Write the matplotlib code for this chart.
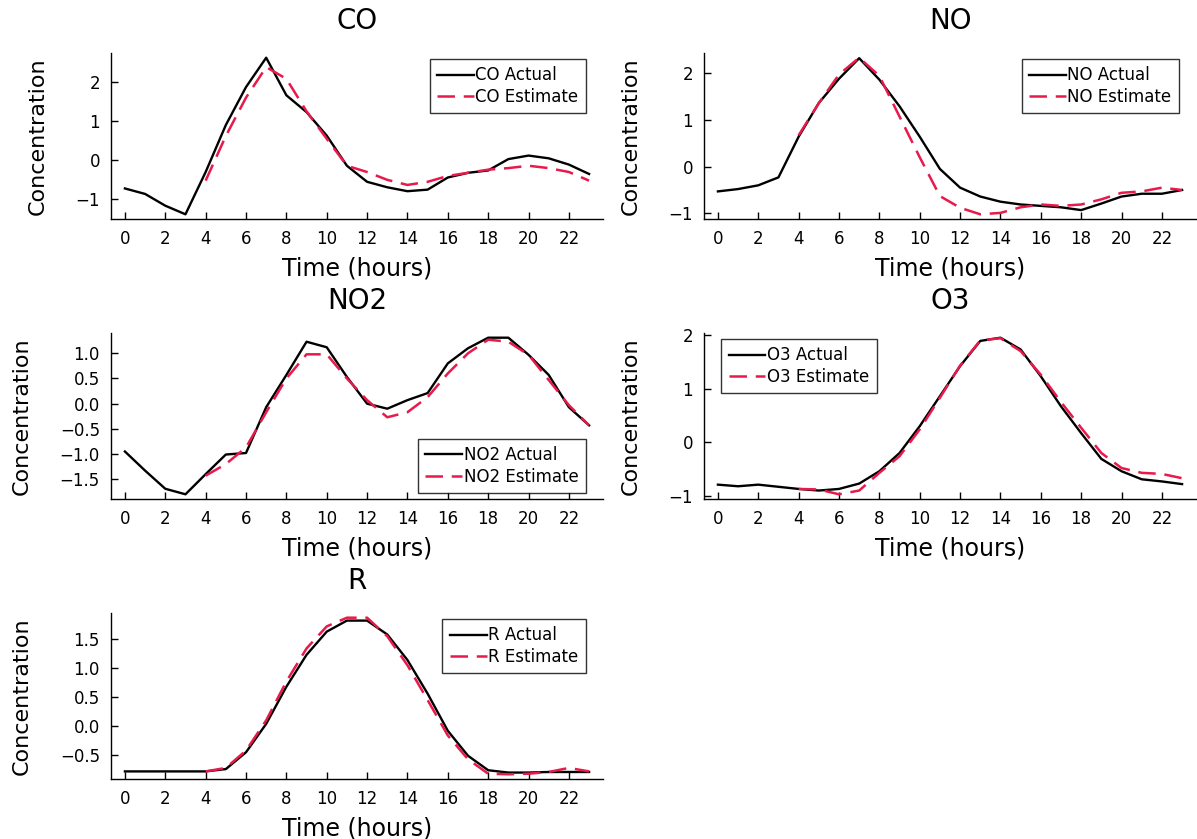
import numpy as np
import matplotlib
matplotlib.use("Agg")
import matplotlib.pyplot as plt

hours = list(range(24))
est_hours = list(range(4, 24))

co_actual = [-0.72, -0.86, -1.16, -1.38, -0.30, 0.90, 1.87, 2.62, 1.66, 1.23, 0.63, -0.14,
             -0.55, -0.69, -0.79, -0.75, -0.44, -0.32, -0.26, 0.03, 0.12, 0.05, -0.11, -0.35]
co_estimate = [-0.52, 0.62, 1.60, 2.38, 2.08, 1.25, 0.55, -0.14, -0.30, -0.50, -0.63, -0.55,
               -0.40, -0.32, -0.24, -0.20, -0.14, -0.20, -0.30, -0.52]

no_actual = [-0.53, -0.48, -0.40, -0.23, 0.64, 1.36, 1.88, 2.32, 1.86, 1.29, 0.64, -0.05,
             -0.45, -0.64, -0.75, -0.81, -0.84, -0.87, -0.93, -0.79, -0.64, -0.58, -0.58, -0.50]
no_estimate = [0.67, 1.36, 1.97, 2.33, 1.94, 1.07, 0.20, -0.63, -0.88, -1.02, -0.99, -0.87,
               -0.81, -0.84, -0.81, -0.70, -0.56, -0.53, -0.45, -0.50]

no2_actual = [-0.95, -1.33, -1.69, -1.80, -1.40, -1.01, -0.98, -0.07, 0.57, 1.23, 1.12, 0.53,
              0.00, -0.10, 0.07, 0.21, 0.80, 1.10, 1.31, 1.31, 0.97, 0.57, -0.07, -0.43]
no2_estimate = [-1.43, -1.20, -0.87, -0.17, 0.50, 0.98, 0.98, 0.50, 0.07, -0.27, -0.17, 0.13,
                0.60, 1.00, 1.27, 1.23, 0.97, 0.47, -0.03, -0.43]

o3_actual = [-0.79, -0.82, -0.79, -0.83, -0.87, -0.90, -0.87, -0.77, -0.54, -0.20, 0.30, 0.86,
             1.42, 1.89, 1.95, 1.73, 1.23, 0.67, 0.17, -0.31, -0.54, -0.69, -0.73, -0.78]
o3_estimate = [-0.87, -0.88, -0.97, -0.90, -0.57, -0.26, 0.24, 0.83, 1.43, 1.90, 1.94, 1.70,
               1.26, 0.75, 0.27, -0.20, -0.48, -0.57, -0.59, -0.67]

r_actual = [-0.78, -0.78, -0.78, -0.78, -0.78, -0.74, -0.45, 0.04, 0.68, 1.23, 1.63, 1.82,
            1.82, 1.58, 1.14, 0.56, -0.08, -0.51, -0.76, -0.80, -0.80, -0.79, -0.79, -0.79]
r_estimate = [-0.78, -0.72, -0.42, 0.10, 0.77, 1.34, 1.72, 1.87, 1.87, 1.55, 1.05, 0.45,
              -0.16, -0.57, -0.82, -0.83, -0.82, -0.79, -0.72, -0.78]

species = ["CO", "NO", "NO2", "O3", "R"]
actuals = [co_actual, no_actual, no2_actual, o3_actual, r_actual]
estimates = [co_estimate, no_estimate, no2_estimate, o3_estimate, r_estimate]
yticks = [[-1, 0, 1, 2], [-1, 0, 1, 2], [-1.5, -1.0, -0.5, 0.0, 0.5, 1.0],
          [-1, 0, 1, 2], [-0.5, 0.0, 0.5, 1.0, 1.5]]
ytick_fmt = ["{:.0f}", "{:.0f}", "{:.1f}", "{:.0f}", "{:.1f}"]
legend_loc = ["upper right", "upper right", "lower right", "upper left", "upper right"]

# axes rectangles in pixels, converted to figure fractions below
W, H = 1197, 839
col_left = [111, 704]
row_bottom = [219, 499, 779]
ax_w, ax_h = 492, 166

RED = "#e8194b"

fig = plt.figure(figsize=(W / 100, H / 100), dpi=100)

for i, name in enumerate(species):
    r, c = divmod(i, 2)
    rect = [col_left[c] / W, 1 - row_bottom[r] / H, ax_w / W, ax_h / H]
    ax = fig.add_axes(rect)

    ax.plot(hours, actuals[i], color="black", lw=1.7, label=f"{name} Actual")
    ax.plot(est_hours, estimates[i], color=RED, lw=1.8, dashes=(7, 3.5),
            label=f"{name} Estimate")

    ax.margins(x=0.03, y=0.03)
    ax.set_xticks(range(0, 24, 2))
    ax.set_yticks(yticks[i])
    ax.set_yticklabels([ytick_fmt[i].format(v).replace("-", "\u2212") for v in yticks[i]])
    ax.tick_params(direction="in", length=5, width=1, labelsize=12, pad=8)

    for side in ("top", "right"):
        ax.spines[side].set_visible(False)
    for side in ("left", "bottom"):
        ax.spines[side].set_linewidth(1.0)

    ax.set_title(name, fontsize=20, pad=17)
    ax.set_xlabel("Time (hours)", fontsize=17, labelpad=6)
    ax.set_ylabel("Concentration", fontsize=16, labelpad=20)

    # legend offset from the axes corner, ~17 px sideways and ~6 px vertically
    dx, dy = 17 / ax_w, 6 / ax_h
    anchor = {"upper right": (1 - dx, 1 - dy), "lower right": (1 - dx, dy),
              "upper left": (dx, 1 - dy)}[legend_loc[i]]
    leg = ax.legend(loc=legend_loc[i], bbox_to_anchor=anchor, borderaxespad=0,
                    fontsize=12, frameon=True, fancybox=False, edgecolor="black",
                    handlelength=2.2, handletextpad=0.1, borderpad=0.45,
                    labelspacing=0.2)
    leg.get_frame().set_linewidth(1.0)

fig.savefig("out.png", dpi=100, facecolor="white")
